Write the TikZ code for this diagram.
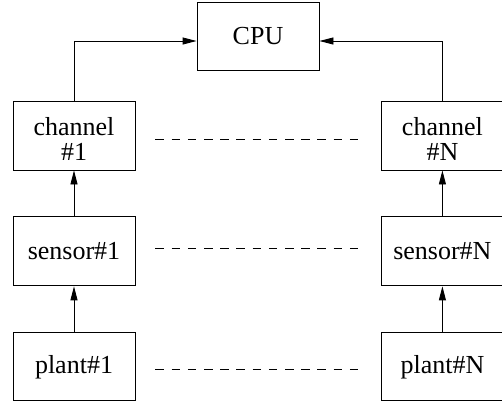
\documentclass[tikz,border=0pt]{standalone}
\usepackage{fontspec}
\setmainfont{Liberation Serif}
\usetikzlibrary{positioning, arrows.meta}

\tikzset{
    bloc/.style={draw, line width=0.9pt, minimum width=122pt, minimum height=69pt,
        inner sep=2pt, align=center, font=\fontsize{26}{24}\selectfont},
    fleche/.style={-{Triangle[length=14pt, width=7pt]}, line width=0.9pt},
    pointilles/.style={line width=1pt, dash pattern=on 8.5pt off 7.7pt,
        shorten <=20pt, shorten >=23pt}
}
% texte sur deux lignes, un peu plus bas
\newcommand{\deuxlignes}[2]{\raisebox{-7pt}[\height][\depth]{%
    \begin{tabular}{@{}c@{}}#1\\#2\end{tabular}}}

\begin{document}
\begin{tikzpicture}[x=1pt, y=1pt]

\useasboundingbox (0, 0) rectangle (502, -402);

% Processeur
\node[bloc, minimum height=68pt] (cpu) at (258, -36) {CPU};

% Chaine 1
\node[bloc] (ch1) at (74, -135.5) {\deuxlignes{channel}{\#1}};
\node[bloc, below=46pt of ch1] (s1) {sensor\#1};
\node[bloc, minimum height=68pt, below=46pt of s1] (p1) {plant\#1};

% Chaine N
\node[bloc, right=245.5pt of ch1] (chN) {\deuxlignes{channel}{\#N}};
\node[bloc, below=46pt of chN] (sN) {sensor\#N};
\node[bloc, minimum height=68pt, below=46pt of sN] (pN) {plant\#N};

% Fleches
\draw[fleche] (ch1.north) |- ([yshift=-5pt]cpu.west);
\draw[fleche] (chN.north) |- ([yshift=-5pt]cpu.east);
\draw[fleche] (s1) -- (ch1);
\draw[fleche] (p1) -- (s1);
\draw[fleche] (sN) -- (chN);
\draw[fleche] (pN) -- (sN);

% Pointilles
\draw[pointilles] ([yshift=-3.5pt]ch1.east) -- ([yshift=-3.5pt]chN.west);
\draw[pointilles] ([yshift=2.5pt]s1.east) -- ([yshift=2.5pt]sN.west);
\draw[pointilles] ([yshift=-3pt]p1.east) -- ([yshift=-3pt]pN.west);

\end{tikzpicture}
\end{document}
